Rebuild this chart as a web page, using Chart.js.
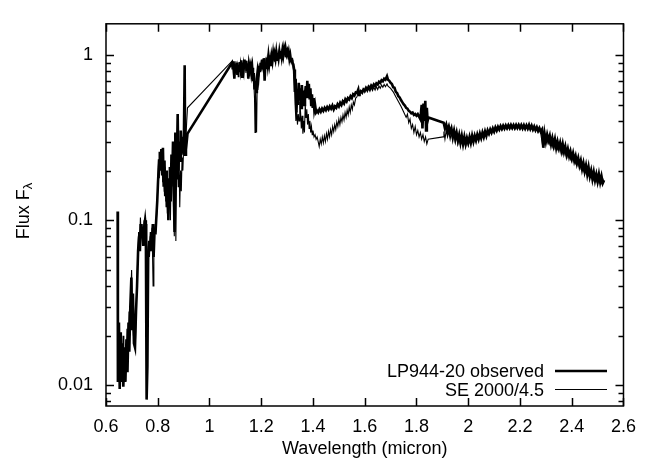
<!DOCTYPE html>
<html>
<head>
<meta charset="utf-8">
<script src="https://cdn.jsdelivr.net/npm/chart.js@4/dist/chart.umd.min.js"></script>
<style>
  html, body { margin: 0; padding: 0; background: #fff; }
  canvas { display: block; }
</style>
</head>
<body>
<canvas id="spectrum" width="646" height="460"></canvas>
<script>
// [wavelength (micron), flux F_lambda]
const observed = [
  [0.645,0.113],[0.646,0.0105],[0.650,0.024],[0.653,0.0095],[0.657,0.021],[0.660,0.0105],
  [0.664,0.018],[0.667,0.0098],[0.671,0.016],[0.675,0.0105],[0.679,0.019],[0.683,0.012],
  [0.687,0.024],[0.690,0.016],[0.694,0.030],[0.698,0.045],[0.701,0.022],[0.704,0.036],
  [0.708,0.018],[0.712,0.017],[0.716,0.028],[0.720,0.040],[0.724,0.065],[0.728,0.080],
  [0.731,0.065],[0.734,0.095],[0.737,0.078],[0.741,0.088],[0.744,0.070],[0.748,0.092],
  [0.751,0.100],[0.754,0.088],[0.757,0.0082],[0.760,0.013],[0.763,0.060],[0.767,0.075],
  [0.770,0.065],[0.774,0.085],[0.777,0.070],[0.781,0.095],[0.784,0.060],[0.788,0.090],
  [0.791,0.082],[0.794,0.100],[0.798,0.130],[0.801,0.170],[0.805,0.230],[0.808,0.260],
  [0.811,0.200],[0.814,0.270],[0.817,0.190],[0.820,0.275],[0.823,0.160],[0.826,0.230],
  [0.829,0.140],[0.832,0.200],[0.835,0.120],[0.838,0.180],[0.841,0.100],[0.844,0.150],
  [0.847,0.210],[0.850,0.130],[0.853,0.250],[0.856,0.180],[0.859,0.300],[0.862,0.150],
  [0.865,0.085],[0.868,0.340],[0.871,0.180],[0.874,0.230],[0.877,0.440],[0.880,0.200],
  [0.883,0.300],[0.886,0.230],[0.889,0.350],[0.892,0.250],[0.895,0.320],[0.898,0.260],
  [0.901,0.300],[0.904,0.870],[0.906,0.250],[0.909,0.330],[0.912,0.300],[0.915,0.335],
  [1.087,0.90],[1.090,0.82],[1.093,0.92],[1.096,0.72],[1.099,0.88],[1.102,0.80],
  [1.105,0.90],[1.108,0.76],[1.111,0.87],[1.114,0.79],[1.117,0.91],[1.120,0.83],
  [1.123,0.93],[1.126,0.74],[1.129,0.88],[1.132,0.82],[1.135,0.94],[1.138,0.86],
  [1.141,0.92],[1.144,0.80],[1.147,0.89],[1.150,0.72],[1.153,0.88],[1.156,0.83],
  [1.159,0.87],[1.162,0.78],[1.165,0.84],[1.168,0.72],[1.171,0.78],[1.174,0.62],
  [1.177,0.70],[1.180,0.60],[1.183,0.72],[1.186,0.80],[1.189,0.74],[1.192,0.86],
  [1.195,0.79],[1.198,0.90],[1.201,0.82],[1.204,0.94],[1.207,0.86],[1.210,0.96],
  [1.213,0.70],[1.216,0.90],[1.219,0.84],[1.222,0.97],[1.225,0.88],[1.228,0.99],
  [1.231,0.90],[1.234,1.00],[1.237,0.86],[1.240,0.98],[1.243,0.92],[1.246,1.02],
  [1.249,0.93],[1.252,1.01],[1.255,0.95],[1.258,1.04],[1.261,0.94],[1.264,1.03],
  [1.267,0.96],[1.270,1.05],[1.273,0.97],[1.276,1.06],[1.279,0.98],[1.282,1.07],
  [1.285,1.00],[1.288,1.09],[1.291,1.02],[1.294,1.10],[1.297,1.03],[1.300,1.06],
  [1.303,0.98],[1.306,1.04],[1.309,0.95],[1.312,1.00],[1.315,0.92],[1.318,0.96],
  [1.321,0.90],[1.324,0.88],[1.327,0.82],[1.330,0.60],[1.333,0.72],[1.336,0.45],
  [1.339,0.62],[1.342,0.50],[1.345,0.68],[1.348,0.55],[1.351,0.63],[1.354,0.48],
  [1.357,0.66],[1.360,0.53],[1.363,0.61],[1.366,0.50],[1.369,0.58],[1.372,0.65],
  [1.375,0.55],[1.378,0.70],[1.381,0.56],[1.384,0.67],[1.387,0.54],[1.390,0.63],
  [1.393,0.50],[1.396,0.58],[1.399,0.48],[1.402,0.55],[1.405,0.47],[1.408,0.50],
  [1.412,0.45],[1.416,0.46],[1.420,0.45],[1.425,0.47],[1.43,0.455],[1.435,0.475],
  [1.44,0.46],[1.445,0.48],[1.45,0.465],[1.455,0.485],[1.46,0.47],[1.465,0.49],
  [1.47,0.475],[1.475,0.495],[1.48,0.47],[1.485,0.49],[1.49,0.48],[1.495,0.505],
  [1.50,0.49],[1.505,0.515],[1.51,0.50],[1.515,0.525],[1.52,0.51],[1.525,0.54],
  [1.53,0.525],[1.535,0.55],[1.54,0.54],[1.545,0.565],[1.55,0.55],[1.555,0.58],
  [1.56,0.57],[1.565,0.595],[1.57,0.59],[1.575,0.62],[1.578,0.575],[1.58,0.59],
  [1.585,0.605],[1.59,0.595],[1.595,0.62],[1.60,0.61],[1.605,0.635],[1.61,0.62],
  [1.615,0.645],[1.62,0.63],[1.625,0.655],[1.63,0.64],[1.635,0.665],[1.64,0.65],
  [1.645,0.675],[1.65,0.665],[1.655,0.69],[1.66,0.68],[1.665,0.705],[1.67,0.695],
  [1.675,0.72],[1.68,0.71],[1.686,0.745],[1.69,0.71],[1.695,0.70],[1.70,0.68],
  [1.705,0.67],[1.71,0.64],[1.715,0.635],[1.72,0.60],[1.725,0.59],[1.73,0.565],
  [1.735,0.555],[1.74,0.535],[1.745,0.52],[1.75,0.505],[1.755,0.495],[1.76,0.48],
  [1.765,0.475],[1.77,0.46],[1.775,0.455],[1.78,0.445],[1.785,0.45],[1.79,0.435],
  [1.795,0.44],[1.80,0.43],[1.805,0.44],[1.81,0.425],[1.815,0.41],[1.82,0.50],
  [1.823,0.36],[1.827,0.51],[1.830,0.40],[1.834,0.53],[1.837,0.35],[1.840,0.48],
  [1.843,0.40],[1.846,0.42],
  [1.905,0.39],[1.91,0.36],[1.915,0.38],[1.92,0.35],[1.925,0.37],[1.93,0.34],
  [1.935,0.36],[1.94,0.325],[1.945,0.35],[1.95,0.315],[1.955,0.34],[1.96,0.305],
  [1.965,0.33],[1.97,0.295],[1.975,0.325],[1.98,0.29],[1.985,0.32],[1.99,0.29],
  [1.995,0.315],[2.00,0.295],[2.005,0.32],[2.01,0.295],[2.015,0.325],[2.02,0.30],
  [2.025,0.325],[2.03,0.305],[2.035,0.33],[2.04,0.31],[2.045,0.335],[2.05,0.315],
  [2.055,0.34],[2.06,0.32],[2.065,0.345],[2.07,0.325],[2.075,0.35],[2.08,0.335],
  [2.085,0.355],[2.09,0.34],[2.095,0.36],[2.10,0.345],[2.105,0.365],[2.11,0.35],
  [2.115,0.368],[2.12,0.355],[2.125,0.372],[2.13,0.358],[2.135,0.374],[2.14,0.36],
  [2.145,0.376],[2.15,0.362],[2.155,0.377],[2.16,0.362],[2.165,0.378],[2.17,0.363],
  [2.175,0.377],[2.18,0.362],[2.185,0.378],[2.19,0.363],[2.195,0.378],[2.20,0.362],
  [2.205,0.377],[2.21,0.361],[2.215,0.377],[2.22,0.36],[2.225,0.376],[2.23,0.36],
  [2.235,0.378],[2.24,0.358],[2.245,0.374],[2.25,0.355],[2.255,0.37],[2.26,0.352],
  [2.265,0.366],[2.27,0.348],[2.275,0.362],[2.28,0.345],[2.285,0.355],[2.29,0.275],
  [2.295,0.335],[2.30,0.30],[2.305,0.33],[2.31,0.305],[2.315,0.325],[2.32,0.29],
  [2.325,0.315],[2.33,0.285],[2.335,0.31],[2.34,0.275],[2.345,0.30],[2.35,0.275],
  [2.355,0.295],[2.36,0.265],[2.365,0.29],[2.37,0.26],[2.375,0.28],[2.38,0.25],
  [2.385,0.27],[2.39,0.245],[2.395,0.262],[2.40,0.238],[2.405,0.255],[2.41,0.23],
  [2.415,0.245],[2.42,0.222],[2.425,0.238],[2.43,0.215],[2.435,0.23],[2.44,0.205],
  [2.445,0.222],[2.45,0.198],[2.455,0.215],[2.46,0.19],[2.465,0.21],[2.47,0.185],
  [2.475,0.20],[2.48,0.178],[2.485,0.196],[2.49,0.175],[2.495,0.19],[2.50,0.172],
  [2.505,0.19],[2.51,0.17],[2.515,0.185],[2.52,0.168],[2.525,0.175]
];

const model = [
  [0.646,0.024],[0.649,0.012],[0.652,0.020],[0.655,0.010],[0.659,0.017],[0.662,0.011],
  [0.666,0.020],[0.669,0.013],[0.673,0.017],[0.677,0.012],[0.681,0.022],[0.685,0.015],
  [0.689,0.028],[0.692,0.020],[0.696,0.036],[0.699,0.050],[0.702,0.028],[0.706,0.020],
  [0.710,0.026],[0.714,0.019],[0.718,0.035],[0.722,0.055],[0.726,0.085],[0.730,0.070],
  [0.733,0.104],[0.736,0.080],[0.740,0.095],[0.744,0.075],[0.747,0.100],[0.751,0.090],
  [0.755,0.095],[0.758,0.010],[0.761,0.030],[0.764,0.070],[0.768,0.060],[0.771,0.080],
  [0.775,0.065],[0.778,0.090],[0.782,0.040],[0.785,0.075],[0.789,0.095],[0.792,0.085],
  [0.796,0.110],[0.800,0.160],[0.803,0.220],[0.806,0.180],[0.810,0.250],[0.813,0.210],
  [0.816,0.240],[0.819,0.170],[0.822,0.220],[0.825,0.150],[0.828,0.210],[0.831,0.130],
  [0.834,0.190],[0.837,0.110],[0.840,0.170],[0.843,0.120],[0.846,0.190],[0.849,0.100],
  [0.852,0.220],[0.855,0.160],[0.858,0.270],[0.861,0.120],[0.864,0.080],[0.867,0.250],
  [0.870,0.075],[0.873,0.200],[0.876,0.330],[0.879,0.160],[0.882,0.260],[0.885,0.120],
  [0.888,0.200],[0.891,0.150],[0.894,0.240],[0.897,0.200],[0.900,0.270],[0.904,0.280],
  [0.908,0.300],[0.912,0.400],[0.915,0.480],
  [1.087,0.92],[1.090,0.86],[1.093,0.75],[1.096,0.88],[1.099,0.78],[1.102,0.92],
  [1.105,0.83],[1.108,0.88],[1.111,0.74],[1.114,0.90],[1.117,0.85],[1.120,0.92],
  [1.123,0.80],[1.126,0.90],[1.129,0.76],[1.132,0.92],[1.135,0.86],[1.138,0.90],
  [1.141,0.78],[1.144,0.93],[1.147,0.82],[1.150,0.88],[1.153,0.75],[1.156,0.90],
  [1.159,0.80],[1.162,0.86],[1.165,0.70],[1.168,0.82],[1.171,0.70],[1.174,0.55],
  [1.176,0.34],[1.178,0.60],[1.180,0.45],[1.182,0.34],[1.184,0.62],[1.187,0.76],
  [1.190,0.84],[1.193,0.78],[1.196,0.88],[1.199,0.80],[1.202,0.92],[1.205,0.84],
  [1.208,0.95],[1.211,0.85],[1.214,0.74],[1.217,0.92],[1.220,0.86],[1.223,0.96],
  [1.226,0.87],[1.229,0.98],[1.232,0.90],[1.235,0.99],[1.238,0.91],[1.241,1.00],
  [1.244,0.94],[1.247,1.01],[1.250,0.92],[1.253,1.02],[1.256,0.95],[1.259,1.01],
  [1.262,0.96],[1.265,1.04],[1.268,0.95],[1.271,1.03],[1.274,0.98],[1.277,1.05],
  [1.280,0.97],[1.283,1.04],[1.286,0.99],[1.289,1.06],[1.292,0.98],[1.295,1.03],
  [1.298,0.97],[1.301,1.02],[1.304,0.95],[1.307,1.00],[1.310,0.93],[1.313,0.97],
  [1.316,0.90],[1.319,0.94],[1.322,0.86],[1.325,0.80],[1.328,0.70],[1.331,0.50],
  [1.334,0.40],[1.337,0.46],[1.340,0.38],[1.343,0.44],[1.346,0.40],[1.349,0.52],
  [1.352,0.45],[1.355,0.36],[1.358,0.43],[1.361,0.335],[1.364,0.40],[1.367,0.34],
  [1.370,0.50],[1.373,0.42],[1.376,0.47],[1.379,0.38],[1.382,0.44],[1.385,0.36],
  [1.388,0.40],[1.391,0.34],[1.394,0.37],[1.397,0.33],[1.400,0.35],[1.404,0.32],
  [1.408,0.33],[1.412,0.31],[1.416,0.32],[1.420,0.30],[1.424,0.28],[1.428,0.31],
  [1.432,0.29],[1.436,0.32],[1.440,0.295],[1.444,0.325],[1.448,0.30],[1.452,0.335],
  [1.456,0.31],[1.460,0.345],[1.464,0.32],[1.468,0.355],[1.472,0.33],[1.476,0.37],
  [1.480,0.345],[1.484,0.38],[1.488,0.355],[1.492,0.395],[1.496,0.37],[1.500,0.41],
  [1.504,0.38],[1.508,0.42],[1.512,0.395],[1.516,0.435],[1.520,0.405],[1.524,0.45],
  [1.528,0.42],[1.532,0.465],[1.536,0.435],[1.540,0.485],[1.544,0.45],[1.548,0.50],
  [1.552,0.47],[1.556,0.52],[1.560,0.50],[1.565,0.55],[1.570,0.56],[1.575,0.60],
  [1.580,0.575],[1.585,0.61],[1.590,0.585],[1.595,0.62],[1.60,0.595],[1.605,0.625],
  [1.61,0.60],[1.615,0.63],[1.62,0.605],[1.625,0.635],[1.63,0.61],[1.635,0.64],
  [1.64,0.615],[1.645,0.645],[1.65,0.62],[1.655,0.65],[1.66,0.63],[1.665,0.66],
  [1.67,0.64],[1.675,0.665],[1.68,0.645],[1.686,0.67],[1.69,0.65],[1.70,0.63],
  [1.71,0.60],[1.72,0.56],[1.73,0.525],[1.74,0.49],[1.75,0.455],[1.76,0.42],
  [1.765,0.44],[1.77,0.39],[1.775,0.41],[1.78,0.36],[1.785,0.38],[1.79,0.34],
  [1.795,0.37],[1.80,0.33],[1.805,0.35],[1.81,0.32],[1.815,0.34],[1.82,0.31],
  [1.825,0.33],[1.83,0.30],[1.835,0.32],[1.84,0.29],[1.845,0.31],
  [1.903,0.32],[1.906,0.345],[1.91,0.31],[1.915,0.35],[1.92,0.32],[1.925,0.345],
  [1.93,0.31],[1.935,0.34],[1.94,0.30],[1.945,0.33],[1.95,0.295],[1.955,0.325],
  [1.96,0.29],[1.965,0.32],[1.97,0.285],[1.975,0.315],[1.98,0.285],[1.985,0.31],
  [1.99,0.28],[1.995,0.31],[2.00,0.285],[2.005,0.31],[2.01,0.29],[2.015,0.315],
  [2.02,0.295],[2.025,0.32],[2.03,0.30],[2.035,0.325],[2.04,0.305],[2.045,0.33],
  [2.05,0.31],[2.055,0.335],[2.06,0.315],[2.065,0.34],[2.07,0.322],[2.075,0.345],
  [2.08,0.33],[2.085,0.35],[2.09,0.335],[2.095,0.355],[2.10,0.34],[2.105,0.36],
  [2.11,0.345],[2.115,0.363],[2.12,0.35],[2.125,0.366],[2.13,0.352],[2.135,0.368],
  [2.14,0.355],[2.145,0.37],[2.15,0.356],[2.155,0.371],[2.16,0.357],[2.165,0.372],
  [2.17,0.357],[2.175,0.372],[2.18,0.356],[2.185,0.372],[2.19,0.357],[2.195,0.372],
  [2.20,0.356],[2.205,0.371],[2.21,0.355],[2.215,0.37],[2.22,0.354],[2.225,0.37],
  [2.23,0.353],[2.235,0.368],[2.24,0.352],[2.245,0.366],[2.25,0.35],[2.255,0.363],
  [2.26,0.346],[2.265,0.36],[2.27,0.342],[2.275,0.355],[2.28,0.338],[2.285,0.30],
  [2.29,0.335],[2.295,0.295],[2.30,0.325],[2.305,0.295],[2.31,0.32],[2.315,0.29],
  [2.32,0.31],[2.325,0.28],[2.33,0.305],[2.335,0.275],[2.34,0.295],[2.345,0.27],
  [2.35,0.29],[2.355,0.262],[2.36,0.283],[2.365,0.255],[2.37,0.275],[2.375,0.25],
  [2.38,0.268],[2.385,0.243],[2.39,0.26],[2.395,0.235],[2.40,0.252],[2.405,0.228],
  [2.41,0.245],[2.415,0.222],[2.42,0.236],[2.425,0.215],[2.43,0.228],[2.435,0.208],
  [2.44,0.222],[2.445,0.20],[2.45,0.215],[2.455,0.195],[2.46,0.208],[2.465,0.188],
  [2.47,0.20],[2.475,0.182],[2.48,0.195],[2.485,0.177],[2.49,0.19],[2.495,0.173],
  [2.50,0.186],[2.505,0.17],[2.51,0.182],[2.515,0.168],[2.52,0.178],[2.525,0.17]
];

const seriesNames = ['LP944-20 observed', 'SE 2000/4.5'];
const wavelengthTicks = [0.6, 0.8, 1, 1.2, 1.4, 1.6, 1.8, 2, 2.2, 2.4, 2.6];
const fluxTicks = [0.01, 0.1, 1];

const FONT = "'Liberation Sans', Arial, Helvetica, sans-serif";
Chart.defaults.font.family = FONT;
Chart.defaults.font.size = 18;
Chart.defaults.color = '#000';

// gnuplot-like box: border, inward ticks on all four sides, titles and key
const gnuplotFrame = {
  id: 'gnuplotFrame',
  afterDraw(chart) {
    const { ctx, chartArea: a, scales: { x, y } } = chart;
    ctx.save();
    ctx.strokeStyle = '#000';
    ctx.lineWidth = 1.5;
    ctx.strokeRect(a.left, a.top, a.right - a.left, a.bottom - a.top);

    ctx.beginPath();
    wavelengthTicks.forEach(v => {
      const px = Math.round(x.getPixelForValue(v)) + 0.5;
      ctx.moveTo(px, a.bottom); ctx.lineTo(px, a.bottom - 8);
      ctx.moveTo(px, a.top); ctx.lineTo(px, a.top + 8);
    });
    for (let d = 0.001; d < 10; d *= 10) {
      for (let m = 1; m <= 9; m++) {
        const v = m * d;
        if (v < y.min || v > y.max) continue;
        const py = Math.round(y.getPixelForValue(v)) + 0.5;
        const len = m === 1 ? 8 : 5;
        ctx.moveTo(a.left, py); ctx.lineTo(a.left + len, py);
        ctx.moveTo(a.right, py); ctx.lineTo(a.right - len, py);
      }
    }
    ctx.stroke();

    // axis titles
    ctx.fillStyle = '#000';
    ctx.font = '18px ' + FONT;
    ctx.textAlign = 'center';
    ctx.textBaseline = 'alphabetic';
    ctx.fillText('Wavelength (micron)', (a.left + a.right) / 2, 454);

    ctx.save();
    ctx.translate(29, 211);
    ctx.rotate(-Math.PI / 2);
    ctx.textAlign = 'left';
    const main = 'Flux F';
    const w1 = ctx.measureText(main).width;
    ctx.font = '13px ' + FONT;
    const w2 = ctx.measureText('λ').width;
    const start = -(w1 + w2) / 2;
    ctx.font = '18px ' + FONT;
    ctx.fillText(main, start, 0);
    ctx.font = '13px ' + FONT;
    ctx.fillText('λ', start + w1, 3);
    ctx.restore();

    // key, bottom right inside the box
    ctx.font = '18px ' + FONT;
    ctx.textAlign = 'right';
    const rows = [
      { label: seriesNames[0], base: 377, line: 371, width: 2.6 },
      { label: seriesNames[1], base: 396, line: 389.5, width: 1 }
    ];
    rows.forEach(r => {
      ctx.fillText(r.label, 544, r.base);
      ctx.lineWidth = r.width;
      ctx.beginPath();
      ctx.moveTo(555, r.line);
      ctx.lineTo(607, r.line);
      ctx.stroke();
    });
    ctx.restore();
  }
};

const toPoints = arr => arr.map(p => ({ x: p[0], y: p[1] }));

new Chart(document.getElementById('spectrum'), {
  type: 'scatter',
  data: {
    datasets: [{
      label: seriesNames[0],
      data: toPoints(observed),
      showLine: true,
      borderColor: '#000',
      borderWidth: 2.6,
      pointRadius: 0
    }, {
      label: seriesNames[1],
      data: toPoints(model),
      showLine: true,
      borderColor: '#000',
      borderWidth: 1.1,
      pointRadius: 0
    }]
  },
  options: {
    responsive: false,
    animation: false,
    layout: { padding: { top: 14, right: 17, left: 0, bottom: 0 } },
    plugins: { legend: { display: false }, tooltip: { enabled: false } },
    elements: { line: { tension: 0, borderJoinStyle: 'miter' } },
    scales: {
      x: {
        type: 'linear',
        min: 0.6,
        max: 2.6,
        grid: { display: false, drawTicks: false },
        border: { display: false },
        afterBuildTicks: s => { s.ticks = wavelengthTicks.map(v => ({ value: v })); },
        afterFit: s => { s.height = 54; },
        ticks: { padding: 10, maxRotation: 0, autoSkip: false, callback: v => String(v) }
      },
      y: {
        type: 'logarithmic',
        min: 0.0075,
        max: 1.55,
        grid: { display: false, drawTicks: false },
        border: { display: false },
        afterBuildTicks: s => { s.ticks = fluxTicks.map(v => ({ value: v })); },
        afterFit: s => { s.width = 106; },
        ticks: { padding: 13, autoSkip: false, callback: v => String(v) }
      }
    }
  },
  plugins: [gnuplotFrame]
});
</script>
</body>
</html>
